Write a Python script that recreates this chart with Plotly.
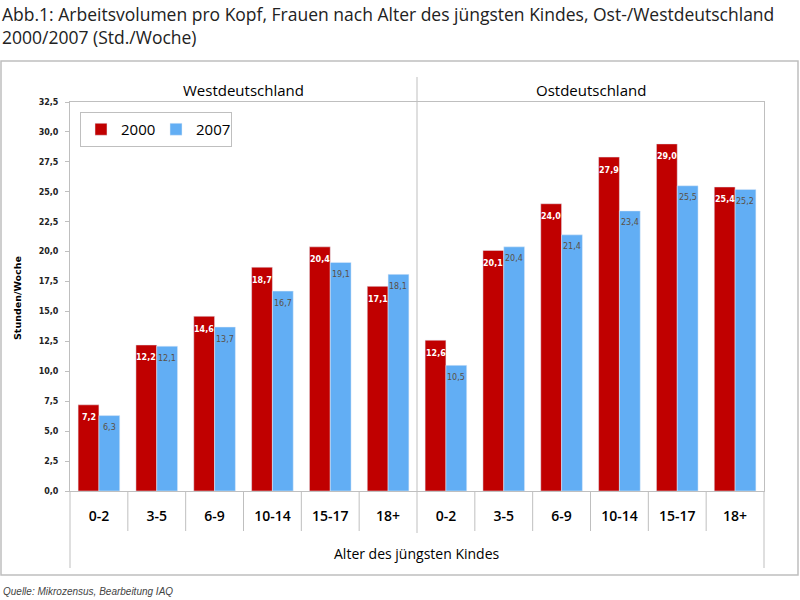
import plotly.graph_objects as go

categories = ["0-2", "3-5", "6-9", "10-14", "15-17", "18+"]
regions = ["Westdeutschland", "Ostdeutschland"]
west_2000 = [7.2, 12.2, 14.6, 18.7, 20.4, 17.1]
west_2007 = [6.3, 12.1, 13.7, 16.7, 19.1, 18.1]
ost_2000 = [12.6, 20.1, 24.0, 27.9, 29.0, 25.4]
ost_2007 = [10.5, 20.4, 21.4, 23.4, 25.5, 25.2]
y_ticks = [i * 2.5 for i in range(14)]

vals_2000 = west_2000 + ost_2000
vals_2007 = west_2007 + ost_2007
xpos = list(range(len(vals_2000)))
ticktext = categories + categories

RED = "#C00000"
BLUE = "#62AEF4"
GRID = "#BFBFBF"
BAR_W = 0.36

# pixel helpers for decoration (plot area 70..764 x 102..491)
L, R, T, B = 70, 764, 102, 491
def px(x):
    return (x - L) / (R - L)
def py(y):
    return (B - y) / (B - T)

def fmt(v):
    return f"{v:.1f}".replace(".", ",")

fig = go.Figure()
fig.add_trace(go.Bar(
    x=xpos, y=vals_2000, name="2000", marker_color=RED,
    width=BAR_W, offset=-BAR_W,
))
fig.add_trace(go.Bar(
    x=xpos, y=vals_2007, name="2007", marker_color=BLUE,
    width=BAR_W, offset=0,
))

annotations = []
for xi, v in zip(xpos, vals_2000):
    annotations.append(dict(x=xi - BAR_W / 2, y=v, xref="x", yref="y", text=fmt(v),
                            showarrow=False, yanchor="middle", yshift=-13,
                            font=dict(family="DejaVu Sans", size=8, color="white", weight="bold")))
for xi, v in zip(xpos, vals_2007):
    annotations.append(dict(x=xi + BAR_W / 2, y=v, xref="x", yref="y", text=fmt(v),
                            showarrow=False, yanchor="middle", yshift=-12,
                            font=dict(family="DejaVu Sans", size=8, color="#5a5046")))

shapes = []
# outer frame
shapes.append(dict(type="rect", xref="paper", yref="paper",
                   x0=px(1), x1=px(798), y0=py(575), y1=py(61),
                   line=dict(color=GRID, width=1.5), layer="below"))
# category separators below axis
for i in range(len(xpos) - 1):
    if i == 5:
        continue
    shapes.append(dict(type="line", xref="x", yref="paper",
                       x0=i + 0.5, x1=i + 0.5, y0=py(491), y1=py(531),
                       line=dict(color=GRID, width=1)))
# region divider
shapes.append(dict(type="line", xref="x", yref="paper",
                   x0=5.5, x1=5.5, y0=py(533), y1=py(77),
                   line=dict(color=GRID, width=1)))
# left and right lines extended below
for xx in (L, R):
    shapes.append(dict(type="line", xref="paper", yref="paper",
                       x0=px(xx), x1=px(xx), y0=py(568), y1=py(491),
                       line=dict(color=GRID, width=1)))

annotations += [
    dict(text="Abb.1: Arbeitsvolumen pro Kopf, Frauen nach Alter des jüngsten Kindes, Ost-/Westdeutschland<br>2000/2007 (Std./Woche)",
         xref="paper", yref="paper", x=px(0), y=py(0), xanchor="left", yanchor="top",
         align="left", showarrow=False,
         font=dict(family="Open Sans", size=17.5, color="#222222")),
    dict(text="Westdeutschland", xref="x", yref="paper", x=2.5, y=py(90), yanchor="middle",
         showarrow=False, font=dict(family="Open Sans", size=15, color="black")),
    dict(text="Ostdeutschland", xref="x", yref="paper", x=8.5, y=py(90), yanchor="middle",
         showarrow=False, font=dict(family="Open Sans", size=15, color="black")),
    dict(text="Alter des jüngsten Kindes", xref="x", yref="paper", x=5.5, y=py(553),
         yanchor="middle", showarrow=False,
         font=dict(family="Open Sans", size=14, color="black")),
    dict(text="Stunden/Woche", xref="paper", yref="paper", x=px(17), y=py(298),
         xanchor="center", yanchor="middle", textangle=-90, showarrow=False,
         font=dict(family="DejaVu Sans", size=9.5, color="black", weight="bold")),
    dict(text="<i>Quelle: Mikrozensus, Bearbeitung IAQ</i>", xref="paper", yref="paper",
         x=px(1), y=py(591), xanchor="left", yanchor="middle", showarrow=False,
         font=dict(family="Liberation Sans", size=10, color="#444444")),
]

fig.update_layout(
    width=800, height=600,
    margin=dict(l=L, r=800 - R, t=T, b=600 - B),
    paper_bgcolor="white", plot_bgcolor="white",
    barmode="group",
    separators=",.",
    showlegend=True,
    legend=dict(orientation="h", x=px(80), y=py(112), xanchor="left", yanchor="top",
                bordercolor=GRID, borderwidth=1, bgcolor="white",
                font=dict(family="Open Sans", size=15, color="black"),
                itemwidth=30, entrywidth=30, traceorder="normal"),
    xaxis=dict(range=[-0.5, 11.5], tickmode="array", tickvals=xpos, ticktext=ticktext,
               showline=True, linecolor=GRID, mirror=True, ticks="", showgrid=False,
               zeroline=False, ticklabelstandoff=12,
               tickfont=dict(family="Open Sans", size=14, color="black", weight=600)),
    yaxis=dict(range=[0, 32.5], tickmode="array", tickvals=y_ticks,
               tickformat=".1f", showline=True, linecolor=GRID, mirror=True,
               ticks="outside", ticklen=4, tickcolor=GRID, showgrid=False, zeroline=False,
               ticklabelstandoff=5,
               tickfont=dict(family="DejaVu Sans", size=8, color="#222222", weight="bold")),
    shapes=shapes, annotations=annotations,
)

fig.write_html("out.html", config={"displayModeBar": False},
               post_script="document.body.style.margin='0';")
